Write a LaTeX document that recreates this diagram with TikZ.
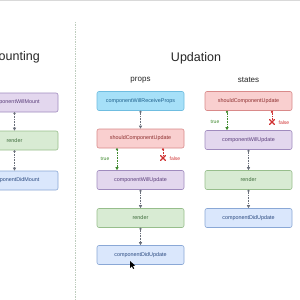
\documentclass[tikz,border=0pt]{standalone}
\usepackage{fontspec}
\setmainfont{Liberation Sans}
\usetikzlibrary{arrows.meta}
\definecolor{pfill}{HTML}{E3D7EE}\definecolor{pdraw}{HTML}{A08BBE}\definecolor{ptext}{HTML}{5A3D7A}
\definecolor{rfill}{HTML}{F9CFCF}\definecolor{rdraw}{HTML}{D98A8A}\definecolor{rtext}{HTML}{8B2D2D}
\definecolor{gfill}{HTML}{D8EBD3}\definecolor{gdraw}{HTML}{97BE8C}\definecolor{gtext}{HTML}{3D6B3A}
\definecolor{bfill}{HTML}{DAE7FC}\definecolor{bdraw}{HTML}{8AA8D6}\definecolor{btext}{HTML}{2B4A80}
\definecolor{cfill}{HTML}{A6E0F8}\definecolor{cdraw}{HTML}{6FBDE0}\definecolor{ctext}{HTML}{1F5F8A}
\definecolor{arr}{HTML}{6A6F7A}\definecolor{tgreen}{HTML}{3F8A2E}\definecolor{fred}{HTML}{D03030}
\tikzset{
  box/.style={draw, rounded corners=2pt, minimum width=87pt, minimum height=19pt, inner sep=0pt, line width=0.6pt, font=\fontsize{5.4}{6}\selectfont},
  purp/.style={box, fill=pfill, draw=pdraw, text=ptext},
  redb/.style={box, fill=rfill, draw=rdraw, text=rtext},
  grnb/.style={box, fill=gfill, draw=gdraw, text=gtext},
  blub/.style={box, fill=bfill, draw=bdraw, text=btext},
  cyab/.style={box, fill=cfill, draw=cdraw, text=ctext},
  flow/.style={draw=arr, densely dotted, line width=0.6pt, {Circle[length=2.2pt,fill=arr]}-{Triangle[length=3pt,width=3pt,fill=arr]}},
  tflow/.style={draw=tgreen, densely dotted, line width=0.6pt, {Circle[length=2.2pt,fill=tgreen]}-{Triangle[length=3pt,width=3pt,fill=tgreen]}},
  fflow/.style={draw=fred, densely dotted, line width=0.6pt, {Circle[length=2.2pt,fill=fred]}-},
  bigtitle/.style={font=\fontsize{12.5}{14}\selectfont, text=black!85},
  subtitle/.style={font=\fontsize{8}{10}\selectfont, text=black!85},
  lab/.style={font=\fontsize{5}{6}\selectfont, inner sep=0.5pt},
  xmark/.style={draw=fred, line width=1.1pt, line cap=round}
}
\begin{document}
\begin{tikzpicture}[x=1pt,y=-1pt]
\useasboundingbox (0,0) rectangle (300,300);
\clip (0,0) rectangle (300,300);
\fill[white] (0,0) rectangle (300,300);
\draw[black!15, line width=1pt] (0,0.5) -- (300,0.5);
\draw[draw={rgb,255:red,190;green,205;blue,190}, densely dotted, line width=0.7pt] (75,22) -- (75,300);
% Mounting
\node[bigtitle] (tmount) at (14,57) {Mounting};
\node[purp] (mwm) at (14.5,102.5) {componentWillMount};
\node[grnb] (mr) at (14.5,140.5) {render};
\node[blub] (mdm) at (14.5,180.5) {componentDidMount};
\draw[flow] (mwm.south) -- (mr.north);
\draw[flow] (mr.south) -- (mdm.north);
% Updation
\node[bigtitle] (tupd) at (196,58) {Updation};
\node[subtitle] (tprops) at (140.5,80) {props};
\node[subtitle] (tstates) at (248.5,80) {states};
% props
\node[cyab] (wrp) at (140.5,101) {componentWillReceiveProps};
\node[redb] (scu1) at (140.5,138.5) {shouldComponentUpdate};
\node[purp] (cwu1) at (140.5,180) {componentWillUpdate};
\node[grnb] (r1) at (140.5,218) {render};
\node[blub] (cdu1) at (140.5,255) {componentDidUpdate};
\draw[flow] (wrp.south) -- (scu1.north);
\draw[tflow] (scu1.south -| 117,0) -- (cwu1.north -| 117,0);
\node[lab, text=tgreen, anchor=east] (true1) at (110,159) {true};
\coordinate (f1) at (163,158);
\draw[fflow] (scu1.south -| f1) -- (f1);
\draw[xmark] (160.5,155.5) -- (165.5,160.5) (165.5,155.5) -- (160.5,160.5);
\node[lab, text=fred, anchor=west] (false1) at (169,159) {false};
\draw[flow] (cwu1.south) -- (r1.north);
\draw[flow] (r1.south) -- (cdu1.north);
% states
\node[redb] (scu2) at (248.5,101) {shouldComponentUpdate};
\node[purp] (cwu2) at (248.5,140) {componentWillUpdate};
\node[grnb] (r2) at (248.5,180) {render};
\node[blub] (cdu2) at (248.5,218) {componentDidUpdate};
\draw[tflow] (scu2.south -| 227,0) -- (cwu2.north -| 227,0);
\node[lab, text=tgreen, anchor=east] (true2) at (220,122) {true};
\coordinate (f2) at (272,122);
\draw[fflow] (scu2.south -| f2) -- (f2);
\draw[xmark] (269.5,119.5) -- (274.5,124.5) (274.5,119.5) -- (269.5,124.5);
\node[lab, text=fred, anchor=west] (false2) at (278,123) {false};
\draw[flow] (cwu2.south) -- (r2.north);
\draw[flow] (r2.south) -- (cdu2.north);
% cursor
\fill[black] (130,261) -- (130,268) -- (131.8,266.3) -- (133.2,269) -- (134.2,268.5) -- (132.9,265.9) -- (135.2,265.6) -- cycle;
\end{tikzpicture}
\end{document}
